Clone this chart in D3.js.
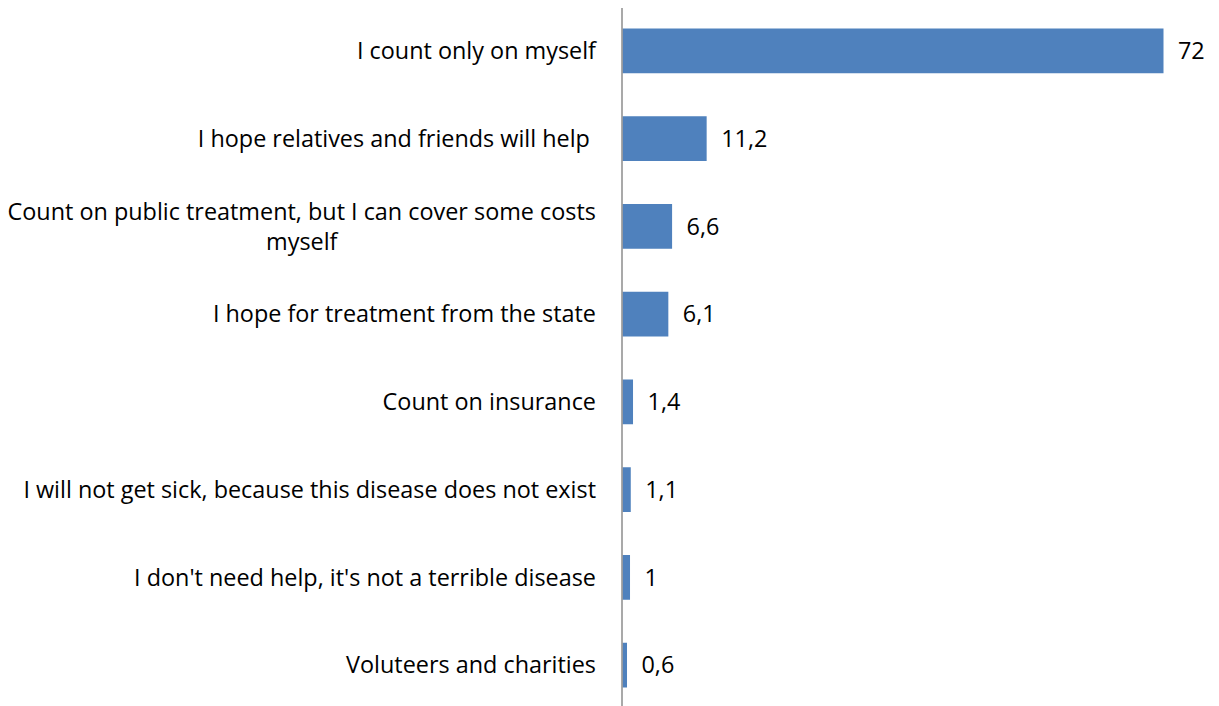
<!DOCTYPE html>
<html>
<head>
<meta charset="utf-8">
<script src="https://cdn.jsdelivr.net/npm/d3@7"></script>
<style>
  body { margin: 0; background: #fff; }
  svg { display: block; font-family: "Open Sans", Lato, sans-serif; }
  .bar { fill: #4f81bd; }
  .axis-line { stroke: #8c8c8c; stroke-width: 1.5; }
  .cat { font-size: 23.4px; fill: #000; white-space: pre; }
  .val { font-size: 23.4px; fill: #000; }
</style>
</head>
<body>
<svg id="chart" width="1219" height="706"></svg>
<script>
const categories = [
  "I count only on myself",
  "I hope relatives and friends will help ",
  "Count on public treatment, but I can cover some costs|myself",
  "I hope for treatment from the state",
  "Count on insurance",
  "I will not get sick, because this disease does not exist",
  "I don't need help, it's not a terrible disease",
  "Voluteers and charities"
];
const values = [72, 11.2, 6.6, 6.1, 1.4, 1.1, 1, 0.6];

const axisX = 622;
const plotTop = 7;
const plotBottom = 709;

const svg = d3.select("#chart");

const x = d3.scaleLinear()
  .domain([0, 72])
  .range([axisX, 1163]);

const y = d3.scaleBand()
  .domain(categories)
  .range([plotTop, plotBottom])
  .paddingInner(0.49)
  .paddingOuter(0.245);

const fmt = d3.formatLocale({ decimal: ",", thousands: " ", grouping: [3], currency: ["", ""] }).format("~g");

// bars
svg.selectAll("rect.bar")
  .data(categories)
  .join("rect")
  .attr("class", "bar")
  .attr("x", x(0) + 0.5)
  .attr("y", d => y(d))
  .attr("height", y.bandwidth())
  .attr("width", (d, i) => x(values[i]) - x(0));

// value labels
svg.selectAll("text.val")
  .data(categories)
  .join("text")
  .attr("class", "val")
  .attr("x", (d, i) => x(values[i]) + 15)
  .attr("y", d => y(d) + y.bandwidth() / 2)
  .attr("dy", "0.35em")
  .text((d, i) => fmt(values[i]));

// category labels (wrapped lines centred on each other, right-aligned block)
const labelRight = 596;
categories.forEach(c => {
  const lines = c.split("|");
  const cy = y(c) + y.bandwidth() / 2;
  const lh = 30;
  const g = svg.append("g");
  const texts = lines.map((ln, k) => g.append("text")
    .attr("class", "cat")
    .attr("y", cy + (k - (lines.length - 1) / 2) * lh)
    .attr("dy", "0.35em")
    .attr("text-anchor", "middle")
    .text(ln));
  const widths = texts.map(t => t.node().getComputedTextLength());
  const maxW = d3.max(widths);
  const centre = labelRight - maxW / 2;
  texts.forEach(t => t.attr("x", centre));
});

// vertical axis line
svg.append("line")
  .attr("class", "axis-line")
  .attr("x1", axisX)
  .attr("x2", axisX)
  .attr("y1", 8)
  .attr("y2", 706);
</script>
</body>
</html>
